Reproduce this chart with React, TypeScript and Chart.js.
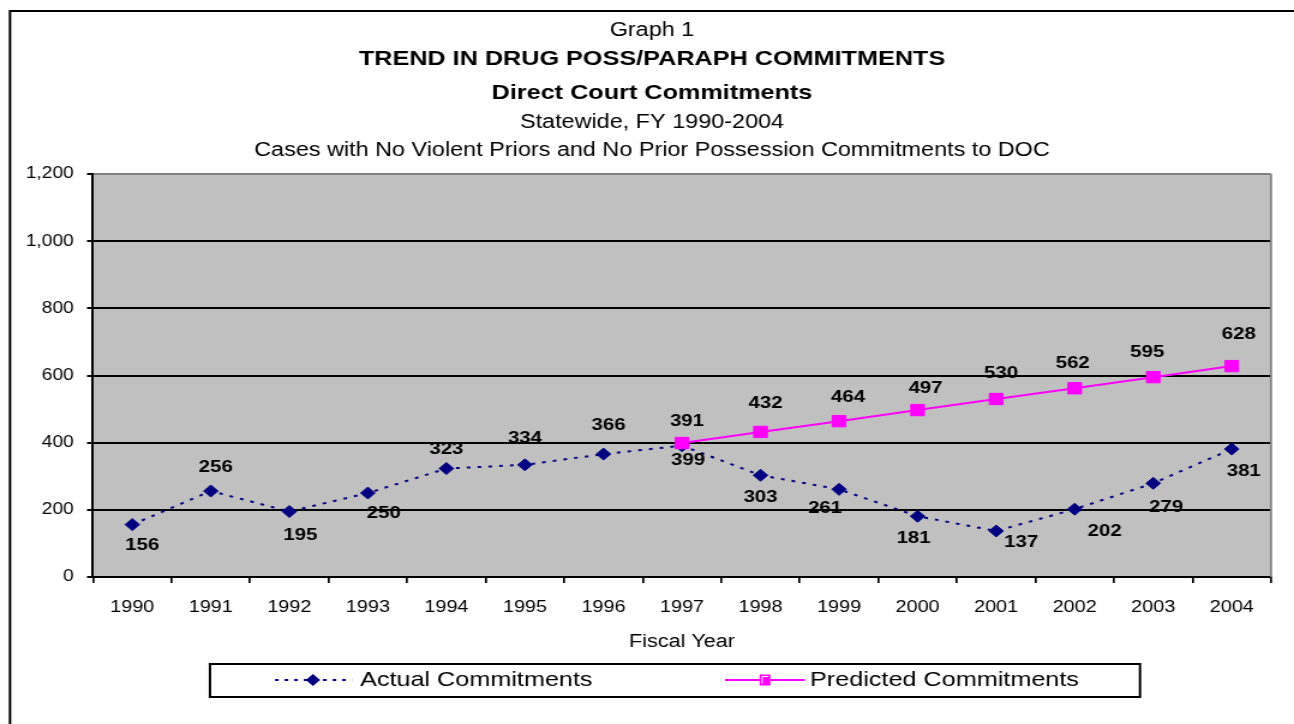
import React, { useEffect, useRef } from "react";
import { Chart, registerables } from "chart.js";

Chart.register(...registerables);

// ---------- data ----------
const years = ["1990", "1991", "1992", "1993", "1994", "1995", "1996", "1997", "1998", "1999", "2000", "2001", "2002", "2003", "2004"];
const actualCommitments = [156, 256, 195, 250, 323, 334, 366, 391, 303, 261, 181, 137, 202, 279, 381];
const predictedCommitments = [null, null, null, null, null, null, null, 399, 432, 464, 497, 530, 562, 595, 628];
const seriesNames = ["Actual Commitments", "Predicted Commitments"];
const yMin = 0;
const yMax = 1200;
const yStep = 200;

const titleLines = [
  "Graph 1",
  "TREND IN DRUG POSS/PARAPH COMMITMENTS",
  "Direct Court Commitments",
  "Statewide, FY 1990-2004",
  "Cases with No Violent Priors and No Prior Possession Commitments to DOC",
];
const xAxisTitle = "Fiscal Year";

// data-label nudges (page pixels, relative to the point)
const actualLabelDx = [10, 5, 11, 16, 0, 0, 5, 5, 0, -14, -4, 25, 30, 13, 12];
const actualLabelDy = [21, -24, 24, 20, -19, -27, -29, -24, 22, 19, 22, 11, 22, 24, 22];
const predictedLabelDx = [0, 0, 0, 0, 0, 0, 0, 6, 5, 9, 8, 5, -2, -6, 7];
const predictedLabelDy = [0, 0, 0, 0, 0, 0, 0, 17, -29, -24, -22, -26, -25, -25, -32];

// ---------- layout ----------
const FONT = '"Liberation Sans", Arial, Helvetica, sans-serif';
const PAGE_W = 1294;
const PAGE_H = 724;
const CANVAS_W = 1078;
const SX = PAGE_W / CANVAS_W;
const px = (pageX: number) => pageX / SX;

const NAVY = "#000080";
const MAGENTA = "#FF00FF";

function diamond(ctx: CanvasRenderingContext2D, x: number, y: number, r: number) {
  ctx.beginPath();
  ctx.moveTo(x, y - r);
  ctx.lineTo(x + r, y);
  ctx.lineTo(x, y + r);
  ctx.lineTo(x - r, y);
  ctx.closePath();
  ctx.fill();
}

const decor = {
  id: "decor",
  beforeDraw(chart: any) {
    const ctx: CanvasRenderingContext2D = chart.ctx;
    const a = chart.chartArea;
    ctx.save();
    ctx.fillStyle = "#ffffff";
    ctx.fillRect(0, 0, chart.width, chart.height);
    ctx.fillStyle = "#C0C0C0";
    ctx.fillRect(a.left, a.top, a.right - a.left, a.bottom - a.top);
    ctx.restore();
  },
  beforeDatasetsDraw(chart: any) {
    const ctx: CanvasRenderingContext2D = chart.ctx;
    const a = chart.chartArea;
    ctx.save();
    ctx.strokeStyle = "#808080";
    ctx.lineWidth = 1.8;
    ctx.beginPath();
    ctx.moveTo(a.right, a.top);
    ctx.lineTo(a.right, a.bottom);
    ctx.stroke();
    ctx.restore();
  },
  afterDatasetsDraw(chart: any) {
    const ctx: CanvasRenderingContext2D = chart.ctx;
    ctx.save();
    ctx.font = `bold 17px ${FONT}`;
    ctx.fillStyle = "#000";
    ctx.textAlign = "center";
    ctx.textBaseline = "middle";
    chart.data.datasets.forEach((ds: any, di: number) => {
      const meta = chart.getDatasetMeta(di);
      const dxs = di === 0 ? actualLabelDx : predictedLabelDx;
      const dys = di === 0 ? actualLabelDy : predictedLabelDy;
      meta.data.forEach((pt: any, i: number) => {
        const v = ds.data[i];
        if (v === null || v === undefined) return;
        ctx.fillText(String(v), pt.x + px(dxs[i]), pt.y + dys[i]);
      });
    });
    ctx.restore();
  },
  afterDraw(chart: any) {
    const ctx: CanvasRenderingContext2D = chart.ctx;
    const a = chart.chartArea;
    ctx.save();
    // keep the strip right of the plot white
    ctx.fillStyle = "#ffffff";
    ctx.fillRect(a.right + 2, 0, CANVAS_W - a.right, PAGE_H);

    // outer frame: only top and left edges are inside the picture
    ctx.strokeStyle = "#000";
    ctx.lineWidth = 2;
    ctx.beginPath();
    ctx.moveTo(px(10), PAGE_H + 5);
    ctx.lineTo(px(10), 11);
    ctx.lineTo(CANVAS_W + 5, 11);
    ctx.stroke();

    // titles
    ctx.fillStyle = "#000";
    ctx.textAlign = "center";
    ctx.textBaseline = "middle";
    const tx = px(652);
    const styles = [
      { f: `19.5px ${FONT}`, y: 31 },
      { f: `bold 21px ${FONT}`, y: 59 },
      { f: `bold 21px ${FONT}`, y: 93 },
      { f: `19.5px ${FONT}`, y: 123 },
      { f: `19.5px ${FONT}`, y: 151 },
    ];
    titleLines.forEach((t, i) => {
      ctx.font = styles[i].f;
      ctx.fillText(t, tx, styles[i].y);
    });

    // x axis title
    ctx.font = `18px ${FONT}`;
    ctx.fillText(xAxisTitle, (a.left + a.right) / 2, 642);

    // legend
    const ly = 680;
    ctx.lineWidth = 2;
    ctx.strokeStyle = "#000";
    ctx.strokeRect(px(210), 664, px(1140) - px(210), 33);

    ctx.strokeStyle = NAVY;
    ctx.lineWidth = 2;
    ctx.setLineDash([3, 5]);
    ctx.beginPath();
    ctx.moveTo(px(275), ly);
    ctx.lineTo(px(352), ly);
    ctx.stroke();
    ctx.setLineDash([]);
    ctx.fillStyle = NAVY;
    diamond(ctx, px(313), ly, 6);

    ctx.strokeStyle = MAGENTA;
    ctx.beginPath();
    ctx.moveTo(px(725), ly);
    ctx.lineTo(px(805), ly);
    ctx.stroke();
    ctx.fillStyle = MAGENTA;
    ctx.fillRect(px(765) - 4.5, ly - 5.5, 9, 11);
    ctx.strokeStyle = "#ffffff";
    ctx.lineWidth = 1;
    ctx.beginPath();
    ctx.moveTo(px(765) - 2.5, ly + 3.5);
    ctx.lineTo(px(765) - 2.5, ly - 3.5);
    ctx.lineTo(px(765) + 2.5, ly - 3.5);
    ctx.stroke();

    ctx.fillStyle = "#000";
    ctx.textAlign = "left";
    ctx.font = `21px ${FONT}`;
    ctx.fillText(seriesNames[0], px(360), ly);
    ctx.fillText(seriesNames[1], px(810), ly);
    ctx.restore();
  },
};

export default function App() {
  const ref = useRef<HTMLCanvasElement | null>(null);

  useEffect(() => {
    const canvas = ref.current;
    if (!canvas) return;
    const chart = new Chart(canvas, {
      type: "line",
      data: {
        labels: years,
        datasets: [
          {
            label: seriesNames[0],
            data: actualCommitments,
            borderColor: NAVY,
            backgroundColor: NAVY,
            borderWidth: 2,
            borderDash: [3, 6],
            pointStyle: "rectRot",
            pointRadius: 6,
            pointBorderWidth: 1,
            pointBorderColor: NAVY,
            pointBackgroundColor: NAVY,
            tension: 0,
            order: 1,
          },
          {
            label: seriesNames[1],
            data: predictedCommitments,
            borderColor: MAGENTA,
            backgroundColor: MAGENTA,
            borderWidth: 2,
            pointStyle: "rect",
            pointRadius: 8,
            pointBorderWidth: 1,
            pointBorderColor: MAGENTA,
            pointBackgroundColor: MAGENTA,
            tension: 0,
            spanGaps: false,
            order: 0,
          },
        ],
      },
      options: {
        responsive: false,
        animation: false,
        devicePixelRatio: 1,
        events: [],
        layout: { padding: { top: 174, left: 0, right: CANVAS_W - px(1271), bottom: 0 } },
        plugins: {
          legend: { display: false },
          title: { display: false },
          tooltip: { enabled: false },
        },
        scales: {
          x: {
            type: "category",
            offset: true,
            grid: {
              display: true,
              drawOnChartArea: false,
              drawTicks: true,
              tickLength: 6,
              offset: true,
              color: "#000",
              lineWidth: 1.7,
            },
            border: { display: true, color: "#000", width: 2 },
            ticks: {
              color: "#000",
              font: { family: FONT, size: 16.5 },
              padding: 15,
              maxRotation: 0,
              autoSkip: false,
            },
            afterFit: (s: any) => {
              s.height = PAGE_H - 577;
            },
          },
          y: {
            min: yMin,
            max: yMax,
            ticks: {
              stepSize: yStep,
              color: "#000",
              font: { family: FONT, size: 16 },
              padding: 11,
            },
            grid: {
              color: (c: any) => (c.tick && c.tick.value === yMax ? "#808080" : "#000"),
              tickColor: "#000",
              lineWidth: 2,
              tickLength: 5,
              drawTicks: true,
            },
            border: { display: true, color: "#000", width: 2 },
            afterFit: (s: any) => {
              s.width = px(93);
            },
          },
        },
      } as any,
      plugins: [decor],
    });
    return () => chart.destroy();
  }, []);

  return (
    <canvas
      ref={ref}
      width={CANVAS_W}
      height={PAGE_H}
      style={{ position: "fixed", left: 0, top: 0, width: PAGE_W + "px", height: PAGE_H + "px" }}
    />
  );
}
